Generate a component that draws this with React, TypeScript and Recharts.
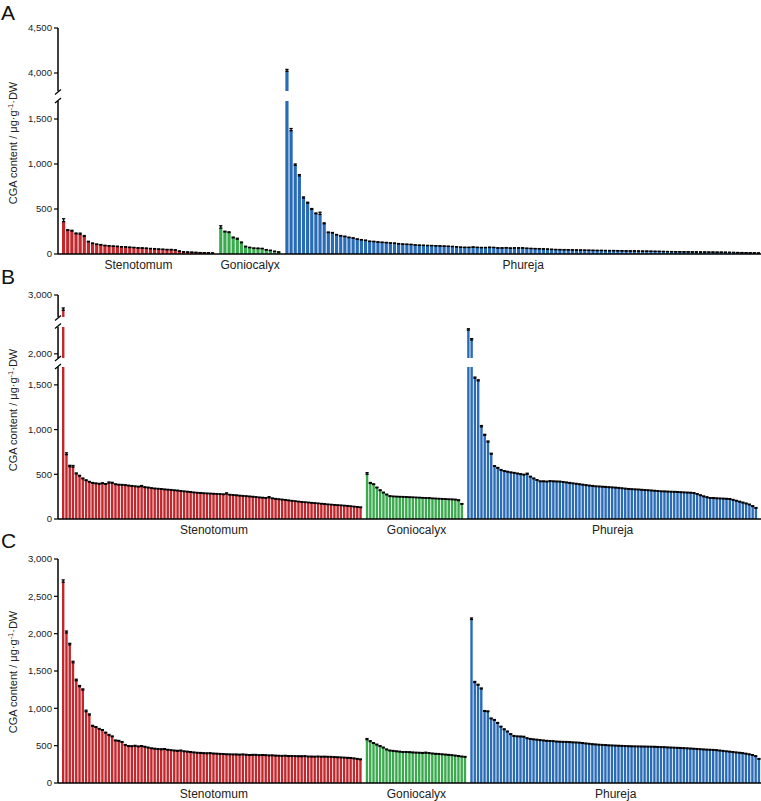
import React from 'react';
import { BarChart, Bar, XAxis, YAxis, Cell, ErrorBar } from 'recharts';

const GROUPS = ['Stenotomum', 'Goniocalyx', 'Phureja'];
const COLORS = ['#C0282D', '#3BAA4E', '#2A6BB6'];

// ---- panel A ----
const aSten = [360, 262, 255, 225, 220, 195, 135, 116, 106, 100, 92, 88, 85, 82, 78, 76, 72, 70, 66, 64, 62, 58, 55, 52, 50, 47, 45, 42, 30, 22, 20, 18, 16, 14, 13, 12, 10];
const aStenErr = [32, 8, 8, 8, 12, 10, 6, 6, 5, 5, 5, 5, 4, 5, 4, 4, 5, 4, 4, 5, 4, 4, 5, 4, 4, 4, 6, 5, 4, 4, 3, 3, 3, 2, 2, 2, 2];
const aGoni = [288, 245, 238, 180, 165, 125, 80, 70, 62, 60, 58, 45, 38, 28, 20];
const aGoniErr = [26, 8, 8, 8, 10, 8, 6, 5, 5, 6, 5, 4, 4, 3, 3];
const aPhur = [
  4020, 1370, 985, 868, 622, 565, 495, 448, 440, 336,
  238, 233, 212, 200, 193, 182, 175, 164, 156, 150,
  139, 137, 131, 128, 125, 120, 118, 112, 108, 106,
  104, 99, 96, 95, 93, 92, 90, 88, 86, 84,
  82, 78, 74, 72, 72, 75, 72, 70, 70, 72,
  71, 66, 66, 68, 64, 66, 66, 66, 62, 60,
  58, 57, 55, 53, 50, 48, 47, 46, 45, 44,
  43, 42, 41, 40, 39, 38, 38, 37, 36, 36,
  35, 34, 33, 32, 32, 31, 30, 30, 29, 28,
  28, 27, 26, 25, 24, 24, 23, 23, 22, 22,
  21, 21, 20, 20, 19, 19, 18, 17, 16, 15,
  14, 13, 12, 11, 10,
];
const aPhurErr = [
  20, 24, 15, 14, 12, 10, 10, 8, 24, 10,
  6, 6, 5, 5, 5, 5, 5, 4, 4, 4,
  4, 4, 4, 4, 4, 4, 4, 4, 4, 4,
  4, 3, 3, 3, 3, 3, 3, 3, 3, 3,
  3, 3, 3, 3, 3, 4, 3, 3, 3, 4,
  3, 3, 3, 3, 3, 3, 3, 3, 3, 3,
  3, 3, 3, 3, 3, 3, 3, 3, 3, 3,
  3, 3, 3, 3, 3, 3, 3, 3, 3, 3,
  3, 3, 3, 3, 3, 3, 3, 3, 3, 3,
  2, 2, 2, 2, 2, 2, 2, 2, 2, 2,
  2, 2, 2, 2, 2, 2, 2, 2, 2, 2,
  2, 2, 2, 2, 2,
];

// ---- panel B ----
const bSten = [
  2830, 720, 585, 580, 505, 480, 450, 430, 412, 400,
  395, 390, 395, 388, 402, 400, 385, 380, 378, 375,
  370, 366, 362, 358, 362, 352, 348, 342, 338, 335,
  332, 328, 325, 322, 318, 315, 310, 306, 302, 298,
  294, 290, 288, 285, 283, 281, 279, 277, 275, 273,
  280, 268, 265, 262, 258, 255, 252, 249, 246, 242,
  238, 235, 232, 238, 228, 222, 218, 214, 210, 205,
  200, 196, 192, 188, 185, 182, 178, 175, 172, 168,
  165, 161, 158, 155, 152, 150, 147, 144, 140, 136,
  132, 128,
];
const bStenErr = [
  25, 20, 15, 18, 10, 8, 8, 8, 8, 8,
  8, 8, 10, 8, 12, 10, 8, 8, 8, 8,
  8, 8, 8, 8, 12, 8, 8, 7, 7, 7,
  7, 7, 7, 7, 7, 7, 7, 7, 7, 7,
  7, 7, 7, 7, 7, 7, 7, 7, 7, 7,
  12, 7, 7, 7, 7, 7, 7, 7, 7, 7,
  7, 7, 7, 12, 7, 7, 7, 7, 7, 7,
  7, 7, 6, 6, 6, 6, 6, 6, 6, 6,
  6, 6, 6, 6, 6, 6, 6, 6, 6, 6,
  6, 6,
];
const bGoni = [500, 398, 385, 348, 318, 292, 270, 252, 250, 248, 246, 245, 243, 241, 240, 238, 236, 234, 232, 230, 228, 226, 224, 222, 220, 218, 216, 213, 205, 165];
const bGoniErr = [18, 10, 8, 8, 8, 8, 8, 8, 6, 6, 6, 6, 6, 6, 6, 6, 6, 6, 6, 8, 6, 6, 6, 6, 6, 6, 8, 8, 10, 8];
const bPhur = [
  2265, 2155, 1575, 1545, 1030, 935, 860, 725, 588, 568,
  545, 532, 525, 518, 512, 505, 498, 492, 500, 470,
  450, 432, 418, 418, 415, 420, 418, 416, 415, 410,
  405, 400, 395, 390, 385, 380, 375, 370, 366, 362,
  360, 357, 355, 352, 350, 347, 344, 340, 336, 332,
  330, 328, 326, 323, 320, 318, 315, 312, 309, 306,
  305, 303, 301, 300, 298, 296, 294, 292, 290, 287,
  275, 262, 250, 240, 231, 230, 228, 226, 224, 222,
  220, 210, 200, 190, 180, 170, 158, 140, 120,
];
const bPhurErr = [
  15, 15, 12, 12, 15, 12, 12, 10, 8, 8,
  8, 8, 8, 8, 8, 8, 8, 8, 12, 8,
  8, 8, 8, 8, 8, 8, 8, 8, 8, 8,
  8, 8, 8, 8, 8, 8, 8, 8, 8, 8,
  8, 8, 8, 8, 8, 8, 8, 8, 8, 8,
  8, 8, 8, 8, 8, 8, 8, 8, 8, 8,
  8, 8, 8, 8, 8, 8, 8, 8, 8, 8,
  8, 8, 8, 8, 8, 8, 8, 8, 8, 8,
  8, 8, 8, 8, 8, 8, 8, 8, 8,
];

// ---- panel C ----
const cSten = [
  2690, 2010, 1850, 1610, 1370, 1290, 1245, 955, 910, 760,
  745, 720, 705, 670, 640, 620, 565, 560, 545, 505,
  490, 488, 492, 485, 490, 480, 470, 460, 455, 450,
  446, 450, 440, 435, 430, 425, 430, 420, 415, 410,
  405, 400, 398, 395, 392, 395, 390, 388, 385, 383,
  380, 379, 378, 376, 375, 378, 372, 370, 372, 370,
  368, 370, 368, 365, 366, 362, 360, 358, 360, 356,
  357, 355, 354, 352, 355, 350, 349, 348, 350, 347,
  348, 346, 345, 342, 340, 338, 335, 332, 330, 325,
  318, 312,
];
const cStenErr = [
  30, 25, 20, 20, 20, 15, 15, 20, 15, 12,
  10, 10, 10, 10, 10, 10, 10, 10, 10, 10,
  10, 10, 12, 10, 10, 10, 10, 10, 10, 10,
  12, 10, 10, 10, 10, 12, 10, 10, 10, 10,
  10, 10, 10, 10, 12, 10, 10, 10, 10, 10,
  10, 10, 10, 12, 10, 10, 12, 10, 10, 12,
  10, 10, 10, 10, 10, 10, 10, 10, 10, 10,
  10, 10, 10, 12, 10, 10, 10, 10, 10, 10,
  10, 10, 10, 10, 10, 10, 10, 10, 10, 10,
  10, 10,
];
const cGoni = [580, 555, 530, 510, 490, 470, 445, 430, 425, 420, 415, 410, 410, 408, 405, 402, 400, 398, 400, 396, 390, 386, 384, 380, 376, 372, 368, 362, 356, 350, 345];
const cGoniErr = [15, 10, 10, 10, 10, 10, 10, 10, 10, 10, 10, 10, 10, 10, 10, 10, 10, 10, 12, 10, 10, 10, 10, 10, 10, 10, 10, 10, 10, 10, 10];
const cPhur = [
  2190, 1345, 1310, 1260, 960, 955, 860, 840, 800, 750,
  715, 685, 650, 625, 620, 618, 615, 595, 585, 580,
  575, 570, 565, 560, 558, 556, 550, 548, 546, 545,
  543, 540, 538, 535, 530, 525, 520, 515, 512, 508,
  505, 503, 500, 498, 496, 494, 492, 490, 488, 487,
  486, 485, 484, 483, 482, 481, 480, 478, 476, 475,
  472, 470, 468, 466, 464, 462, 460, 457, 454, 451,
  448, 445, 442, 440, 438, 435, 430, 425, 420, 415,
  410, 405, 400, 395, 388, 380, 370, 355, 318,
];
const cPhurErr = [
  20, 15, 12, 12, 10, 10, 10, 10, 10, 10,
  10, 10, 10, 10, 10, 10, 10, 10, 10, 10,
  10, 10, 10, 10, 10, 10, 10, 10, 10, 10,
  10, 10, 10, 10, 10, 10, 10, 10, 10, 10,
  10, 10, 10, 10, 10, 10, 10, 10, 10, 10,
  10, 10, 10, 10, 10, 10, 10, 10, 10, 10,
  10, 10, 10, 10, 10, 10, 10, 10, 10, 10,
  10, 10, 10, 10, 10, 10, 10, 10, 10, 10,
  10, 10, 10, 10, 10, 10, 10, 10, 10,
];

type Row = { id: number; v: number; err: [number, number]; g: number };

// one empty slot between the three groups
const buildRows = (groups: number[][], errs: number[][]) => {
  const rows: Row[] = [];
  const mids: number[] = [];
  groups.forEach((vals, gi) => {
    if (gi > 0) rows.push({ id: rows.length, v: 0, err: [0, 0], g: -1 });
    mids.push(rows.length + Math.floor(vals.length / 2));
    vals.forEach((v, i) => rows.push({ id: rows.length, v, err: [0, errs[gi][i] ?? 0], g: gi }));
  });
  return { rows, mids };
};

const FONT = '"Liberation Sans", Arial, Helvetica, sans-serif';
const fmt = (v: number) => v.toLocaleString('en-US');

const MARGIN_TOP = 6;
const X_AXIS_H = 20;

type Seg = { top: number; plotH: number; domain: [number, number]; ticks: number[]; bottom?: boolean };

type PanelProps = {
  groups: number[][];
  errs: number[][];
  segs: Seg[];
  padRight: number;
  barSize: number;
};

const Segment = ({ rows, mids, seg, padRight, barSize }: { rows: Row[]; mids: number[]; seg: Seg; padRight: number; barSize: number }) => {
  const h = MARGIN_TOP + seg.plotH + (seg.bottom ? X_AXIS_H : 0);
  return (
    <div style={{ position: 'absolute', left: 0, top: seg.top - MARGIN_TOP, width: 761, height: h, overflow: 'hidden' }}>
      <BarChart width={761} height={h} data={rows} margin={{ top: MARGIN_TOP, right: 0, bottom: 0, left: 0 }}>
        <XAxis
          dataKey="id"
          type="category"
          hide={!seg.bottom}
          padding={{ left: 4, right: padRight }}
          ticks={mids}
          interval={0}
          tickFormatter={(id) => GROUPS[mids.indexOf(Number(id))] ?? ''}
          tickLine={false}
          tickSize={4}
          tickMargin={2}
          height={X_AXIS_H}
          axisLine={{ stroke: '#000', strokeWidth: 1.5 }}
          tick={{ fontSize: 12, fill: '#222', fontFamily: FONT }}
        />
        <YAxis
          type="number"
          domain={seg.domain}
          allowDataOverflow
          ticks={seg.ticks}
          interval={0}
          width={58}
          tickSize={4}
          tickMargin={2}
          tickFormatter={fmt}
          axisLine={{ stroke: '#000', strokeWidth: 1.5 }}
          tickLine={{ stroke: '#000', strokeWidth: 1.2 }}
          tick={{ fontSize: 9.6, fill: '#222', fontFamily: FONT }}
        />
        <Bar dataKey="v" barSize={barSize} isAnimationActive={false}>
          {rows.map((r) => (
            <Cell key={r.id} fill={r.g >= 0 ? COLORS[r.g] : 'transparent'} />
          ))}
          <ErrorBar dataKey="err" direction="y" width={1.6} stroke="#000" strokeWidth={1.3} isAnimationActive={false} />
        </Bar>
      </BarChart>
    </div>
  );
};

const Panel = ({ groups, errs, segs, padRight, barSize }: PanelProps) => {
  const { rows, mids } = buildRows(groups, errs);
  return (
    <>
      {segs.map((s, i) => (
        <Segment key={i} rows={rows} mids={mids} seg={s} padRight={padRight} barSize={barSize} />
      ))}
    </>
  );
};

const YLabel = ({ cy }: { cy: number }) => (
  <text transform={`translate(17,${cy}) rotate(-90)`} textAnchor="middle" fontSize={11} fontFamily={FONT} fill="#222">
    CGA content / μg·g<tspan dy={-4} fontSize={7.5}>-1</tspan>
    <tspan dy={4}>·DW</tspan>
  </text>
);

// little slashes where the y axis is broken
const Break = ({ y }: { y: number }) => <line x1={55} y1={y + 2.5} x2={61} y2={y - 2.5} stroke="#000" strokeWidth={1.2} />;

const segsA: Seg[] = [
  { top: 28.3, plotH: 63, domain: [3800, 4500], ticks: [4000, 4500] },
  { top: 101.3, plotH: 153, domain: [0, 1700], ticks: [0, 500, 1000, 1500], bottom: true },
];
const segsB: Seg[] = [
  { top: 295, plotH: 22.35, domain: [2750, 3000], ticks: [3000] },
  { top: 326.5, plotH: 31.3, domain: [1950, 2300], ticks: [2000] },
  { top: 367, plotH: 152, domain: [0, 1700], ticks: [0, 500, 1000, 1500], bottom: true },
];
const segsC: Seg[] = [
  { top: 559.3, plotH: 224, domain: [0, 3000], ticks: [0, 500, 1000, 1500, 2000, 2500, 3000], bottom: true },
];

const App: React.FC = () => {
  return (
    <div style={{ position: 'absolute', left: 0, top: 0, width: 761, height: 801, overflow: 'hidden', background: '#fff' }}>
      <Panel groups={[aSten, aGoni, aPhur]} errs={[aStenErr, aGoniErr, aPhurErr]} segs={segsA} padRight={0} barSize={3.2} />
      <Panel groups={[bSten, bGoni, bPhur]} errs={[bStenErr, bGoniErr, bPhurErr]} segs={segsB} padRight={3} barSize={2.4} />
      <Panel groups={[cSten, cGoni, cPhur]} errs={[cStenErr, cGoniErr, cPhurErr]} segs={segsC} padRight={0} barSize={2.4} />
      <svg width={761} height={801} style={{ position: 'absolute', left: 0, top: 0, pointerEvents: 'none' }}>
        <text x={1} y={20} fontSize={21} fontFamily={FONT} fill="#111">A</text>
        <text x={1} y={284} fontSize={21} fontFamily={FONT} fill="#111">B</text>
        <text x={1} y={548} fontSize={21} fontFamily={FONT} fill="#111">C</text>
        <YLabel cy={143} />
        <YLabel cy={410} />
        <YLabel cy={672} />
        <Break y={92} />
        <Break y={100.5} />
        <Break y={318} />
        <Break y={326} />
        <Break y={358.5} />
        <Break y={366.5} />
      </svg>
    </div>
  );
};

export default App;
